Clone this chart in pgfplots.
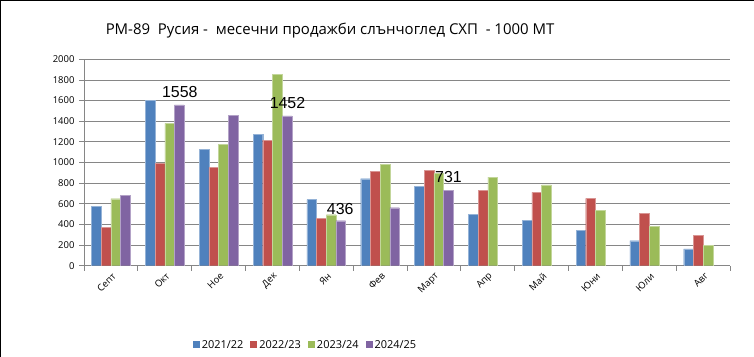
\documentclass[border=0pt]{standalone}
\usepackage{fontspec}
\setmainfont{Open Sans}
\newfontfamily\arialfont{Liberation Sans}
\usepackage{pgfplots}
\pgfplotsset{compat=1.18}
\definecolor{cb}{HTML}{4F81BD}
\definecolor{cr}{HTML}{C0504D}
\definecolor{cg}{HTML}{9BBB59}
\definecolor{cp}{HTML}{8064A2}
\definecolor{gridc}{RGB}{134,134,134}
\begin{document}
\begin{tikzpicture}
\path[use as bounding box] (-84bp,-91.3bp) rectangle (670bp,265.7bp);
\draw[black,line width=1.2bp] (-84bp+0.6bp,-91.3bp) -- (-84bp+0.6bp,265.7bp-0.6bp) -- (670bp,265.7bp-0.6bp);
\begin{axis}[
  at={(0,0)}, anchor=south west,
  scale only axis,
  width=646bp, height=206.4bp,
  xmin=-0.5, xmax=11.5,
  ymin=0, ymax=2000,
  ytick={0,200,...,2000},
  xtick={0,...,11},
  xticklabels={Септ,Окт,Ное,Дек,Ян,Фев,Март,Апр,Май,Юни,Юли,Авг},
  minor xtick={-0.5,0.5,...,11.5},
  major x tick style={draw=none},
  minor tick length=5bp,
  major tick length=5bp,
  tick align=outside,
  xtick pos=bottom, ytick pos=left,
  axis line style={gridc, line width=0.8bp},
  tick style={gridc, line width=0.8bp},
  axis x line*=bottom, axis y line*=left,
  ymajorgrids, grid style={gridc, line width=0.8bp},
  /pgf/number format/assume math mode=true,
  /pgf/number format/1000 sep={},
  yticklabel style={font=\fontsize{9.5}{11}\selectfont, xshift=-1bp},
  xticklabel style={font=\fontsize{9.5}{11}\selectfont, rotate=45, anchor=east, xshift=3bp, yshift=-5bp},
  ybar, bar width=0.18,
  legend style={at={(0.339,-0.384)}, anchor=center, draw=none, legend columns=4,
    font=\fontsize{11}{13}\selectfont, column sep=0bp,
    /tikz/every even column/.append style={column sep=0bp},
    nodes={inner xsep=2bp}},
  legend image code/.code={\path[draw=none,fill=none] (0bp,0bp) rectangle (12bp,0bp); \fill[#1,draw=none] (5bp,-3.5bp) rectangle (12bp,3.5bp);},
]
\addplot[fill=cb, draw=cb!60!white, bar shift=-0.27] coordinates {(0,572) (1,1603) (2,1128) (3,1273) (4,640) (5,843) (6,772) (7,498) (8,439) (9,342) (10,242) (11,162)};
\addplot[fill=cr, draw=cr!60!white, bar shift=-0.09] coordinates {(0,372) (1,992) (2,950) (3,1218) (4,462) (5,911) (6,927) (7,733) (8,711) (9,653) (10,510) (11,294)};
\addplot[fill=cg, draw=cg!60!white, bar shift=0.09] coordinates {(0,649) (1,1380) (2,1179) (3,1851) (4,494) (5,982) (6,895) (7,859) (8,782) (9,536) (10,381) (11,194)};
\addplot[fill=cp, draw=cp!60!white, bar shift=0.27] coordinates {(0,682) (1,1558) (2,1454) (3,1452) (4,436) (5,562) (6,731)};
\legend{2021/22,2022/23,2023/24,2024/25}
\node[font=\arialfont\fontsize{16}{18}\selectfont] at (axis cs:1.28,1683) {1558};
\node[font=\arialfont\fontsize{16}{18}\selectfont] at (axis cs:3.28,1576) {1452};
\node[font=\arialfont\fontsize{16}{18}\selectfont] at (axis cs:4.26,549) {436};
\node[font=\arialfont\fontsize{16}{18}\selectfont] at (axis cs:6.27,858) {731};
\end{axis}
\node[font=\fontsize{15}{17}\selectfont] at (246bp,234.7bp) {PM-89\ \ Русия -\ \ месечни продажби слънчоглед СХП\ \ - 1000 МТ};
\end{tikzpicture}
\end{document}
